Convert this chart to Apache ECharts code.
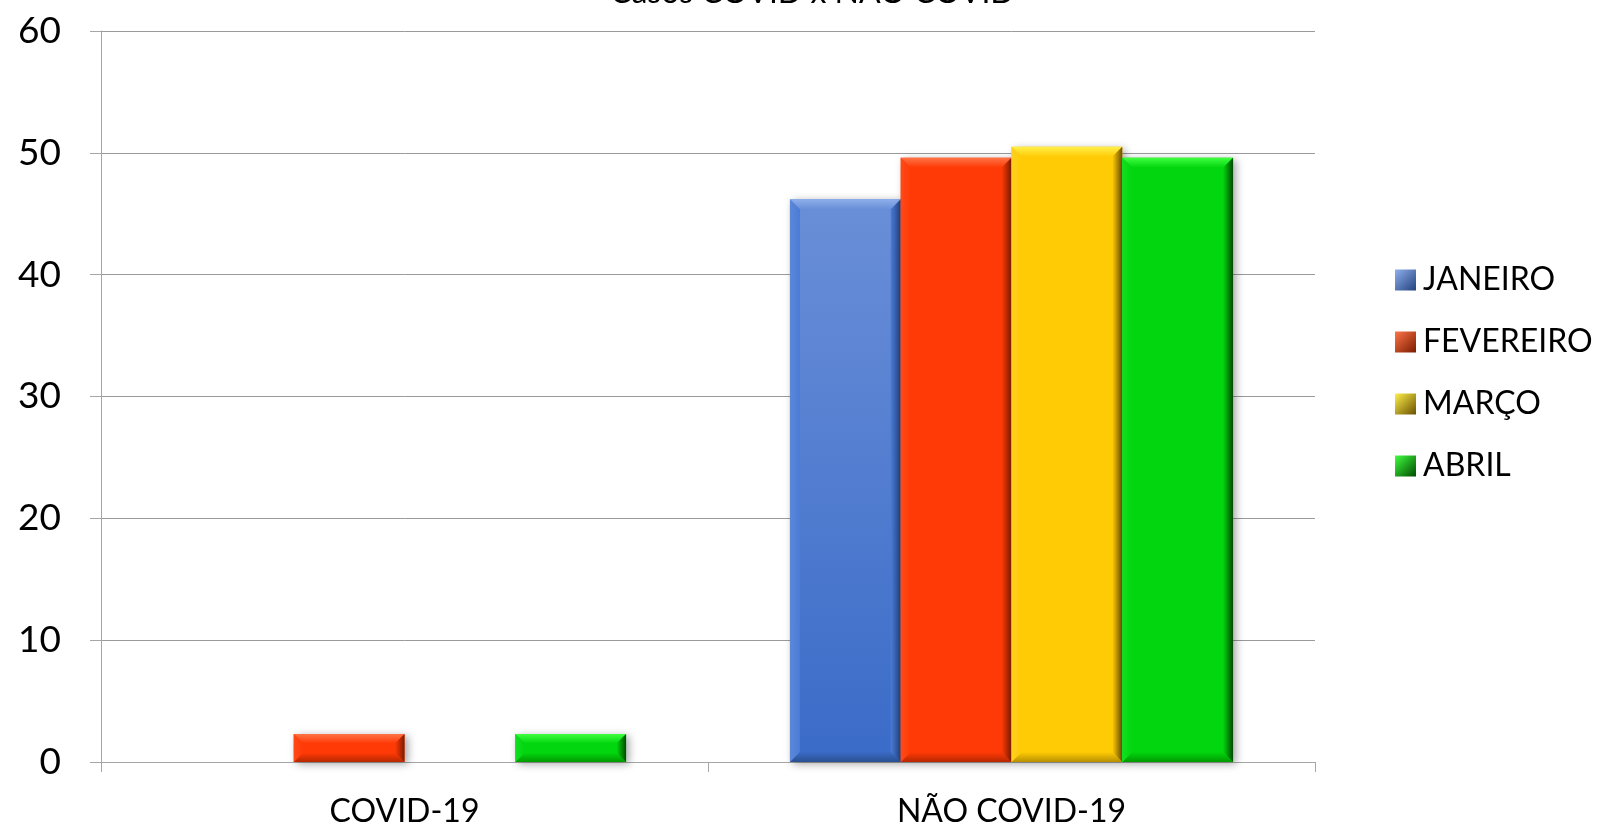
<!DOCTYPE html>
<html>
<head>
<meta charset="utf-8">
<script src="https://cdn.jsdelivr.net/npm/echarts@6/dist/echarts.min.js"></script>
<style>html,body{margin:0;padding:0;background:#fff;}#c{width:1599px;height:825px;}</style>
</head>
<body>
<div id="c"></div>
<script>
const categories = ['COVID-19', 'NÃO COVID-19'];
const seriesNames = ['JANEIRO', 'FEVEREIRO', 'MARÇO', 'ABRIL'];
const janeiro = [0, 46.2];
const fevereiro = [2.3, 49.6];
const marco = [0, 50.5];
const abril = [2.3, 49.6];
const yMin = 0, yMax = 60, yInterval = 10;
const titleText = 'Casos COVID x NÃO COVID';

const palette = [
  {face: '#4a7bd6', faceTop: '#6a8fd8', faceBot: '#3a6bc8', light: '#8fb0ec', left: '#5d88d8', dark: '#22427e', bot: '#2a5090'},
  {face: '#ff3a06', faceTop: '#ff3a06', faceBot: '#ff3a06', light: '#ff7448', left: '#ff4a18', dark: '#7a1c00', bot: '#b82800'},
  {face: '#ffcb05', faceTop: '#ffcb05', faceBot: '#ffcb05', light: '#fff04a', left: '#ffd020', dark: '#6a5000', bot: '#b89000'},
  {face: '#02d60f', faceTop: '#02d60f', faceBot: '#02d60f', light: '#40ff40', left: '#10e020', dark: '#004a00', bot: '#009a00'}
];
const allValues = [janeiro, fevereiro, marco, abril];
const font = 'Lato, "Open Sans", sans-serif';

function lin(x, y, x2, y2, c1, c2) {
  return {type: 'linear', x: x, y: y, x2: x2, y2: y2, colorStops: [{offset: 0, color: c1}, {offset: 1, color: c2}]};
}

function makeRender(si) {
  return function (params, api) {
    const cat = api.value(0);
    const val = api.value(1);
    const top = api.coord([cat, val]);
    const base = api.coord([cat, 0]);
    const catW = api.size([1, 0])[0];
    const groupW = catW * 0.73;
    const bw = groupW / 4;
    const x0 = top[0] - groupW / 2 + si * bw;
    const x1 = x0 + bw;
    const y0 = top[1];
    const y1 = base[1];
    const h = y1 - y0;
    if (h < 1) return {type: 'group', children: []};
    const b = Math.min(10, h / 3);
    const p = palette[si];
    return {
      type: 'group',
      children: [
        {type: 'rect', shape: {x: x0, y: y0, width: bw, height: h},
          style: {fill: lin(0, 0, 0, 1, p.faceTop, p.faceBot), shadowBlur: 8, shadowOffsetX: 3, shadowOffsetY: 2, shadowColor: 'rgba(0,0,0,0.35)'}},
        {type: 'polygon', shape: {points: [[x0, y0], [x1, y0], [x1 - b, y0 + b], [x0 + b, y0 + b]]},
          style: {fill: lin(0, 0, 0, 1, p.light, p.faceTop)}},
        {type: 'polygon', shape: {points: [[x0, y1], [x1, y1], [x1 - b, y1 - b], [x0 + b, y1 - b]]},
          style: {fill: lin(0, 0, 0, 1, p.faceBot, p.bot)}},
        {type: 'polygon', shape: {points: [[x0, y0], [x0 + b, y0 + b], [x0 + b, y1 - b], [x0, y1]]},
          style: {fill: lin(0, 0, 1, 0, p.left, p.face)}},
        {type: 'polygon', shape: {points: [[x1, y0], [x1 - b, y0 + b], [x1 - b, y1 - b], [x1, y1]]},
          style: {fill: lin(0, 0, 1, 0, p.face, p.dark)}}
      ]
    };
  };
}

const series = seriesNames.map(function (name, si) {
  return {
    name: name,
    type: 'custom',
    renderItem: makeRender(si),
    encode: {x: 0, y: 1},
    itemStyle: {color: lin(0, 0, 1, 1, palette[si].light, palette[si].dark)},
    data: allValues[si].map(function (v, i) { return [i, v]; })
  };
});

const chart = echarts.init(document.getElementById('c'), null, {renderer: 'canvas'});
chart.setOption({
  animation: false,
  backgroundColor: '#ffffff',
  title: {
    text: titleText, left: 605, top: -28,
    textStyle: {fontFamily: font, fontSize: 32, fontWeight: 'normal', color: '#000'}
  },
  legend: {
    orient: 'vertical', left: 1390, top: 259,
    icon: 'rect', itemWidth: 21, itemHeight: 21, itemGap: 30,
    textStyle: {fontFamily: font, fontSize: 32, color: '#000', lineHeight: 21, padding: [0, 0, 0, 2]},
    data: seriesNames
  },
  grid: {left: 101, right: 284, top: 31, bottom: 63, containLabel: false, outerBoundsMode: 'none'},
  xAxis: {
    type: 'category', data: categories, boundaryGap: true,
    axisLine: {show: true, lineStyle: {color: '#a6a6a6', width: 1}},
    axisTick: {show: true, length: 10, lineStyle: {color: '#a6a6a6'}},
    axisLabel: {fontFamily: font, fontSize: 32, color: '#000', margin: 34},
    splitLine: {show: false}
  },
  yAxis: {
    type: 'value', min: yMin, max: yMax, interval: yInterval,
    axisLine: {show: true, lineStyle: {color: '#a6a6a6', width: 1}},
    axisTick: {show: true, length: 11, lineStyle: {color: '#a6a6a6'}},
    axisLabel: {fontFamily: font, fontSize: 37, color: '#000', margin: 40},
    splitLine: {show: true, lineStyle: {color: '#9a9a9a', width: 1}}
  },
  series: series
});
</script>
</body>
</html>
